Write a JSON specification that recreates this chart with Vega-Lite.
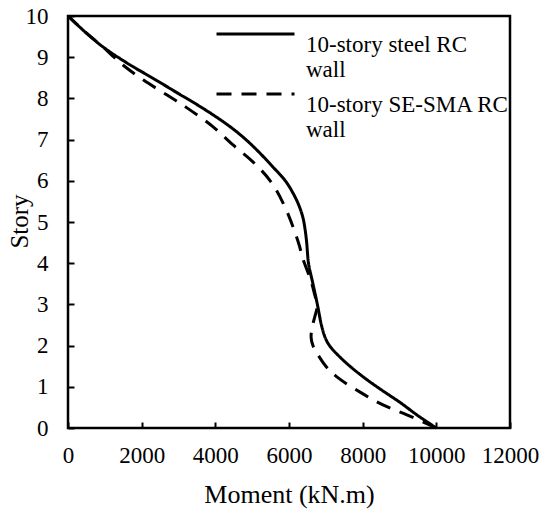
{
  "$schema": "https://vega.github.io/schema/vega-lite/v6.json",
  "width": 442,
  "height": 412,
  "autosize": {"type": "none"},
  "padding": {"left": 68, "top": 16, "right": 30, "bottom": 83},
  "background": "white",
  "config": {
    "view": {"stroke": "black", "strokeWidth": 2.5},
    "font": "Liberation Serif",
    "axis": {
      "domain": false,
      "grid": false,
      "ticks": true,
      "tickColor": "black",
      "tickWidth": 2,
      "tickSize": -6,
      "labelFont": "Liberation Serif",
      "labelFontSize": 23,
      "labelColor": "black",
      "labelOverlap": false,
      "labelFlush": false,
      "titleFont": "Liberation Serif",
      "titleFontWeight": "normal",
      "titleColor": "black"
    }
  },
  "data": {
    "values": [
      {"series": "10-story steel RC wall", "story": 0, "moment": 10000},
      {"series": "10-story steel RC wall", "story": 0.3, "moment": 9500},
      {"series": "10-story steel RC wall", "story": 0.63, "moment": 9000},
      {"series": "10-story steel RC wall", "story": 0.9, "moment": 8550},
      {"series": "10-story steel RC wall", "story": 1.17, "moment": 8120},
      {"series": "10-story steel RC wall", "story": 1.45, "moment": 7720},
      {"series": "10-story steel RC wall", "story": 1.72, "moment": 7385},
      {"series": "10-story steel RC wall", "story": 2.0, "moment": 7100},
      {"series": "10-story steel RC wall", "story": 2.2, "moment": 6980},
      {"series": "10-story steel RC wall", "story": 2.5, "moment": 6880},
      {"series": "10-story steel RC wall", "story": 3.0, "moment": 6770},
      {"series": "10-story steel RC wall", "story": 3.5, "moment": 6650},
      {"series": "10-story steel RC wall", "story": 4.0, "moment": 6530},
      {"series": "10-story steel RC wall", "story": 4.5, "moment": 6480},
      {"series": "10-story steel RC wall", "story": 4.8, "moment": 6440},
      {"series": "10-story steel RC wall", "story": 5.1, "moment": 6380},
      {"series": "10-story steel RC wall", "story": 5.4, "moment": 6270},
      {"series": "10-story steel RC wall", "story": 5.7, "moment": 6110},
      {"series": "10-story steel RC wall", "story": 6.0, "moment": 5900},
      {"series": "10-story steel RC wall", "story": 6.33, "moment": 5570},
      {"series": "10-story steel RC wall", "story": 6.7, "moment": 5180},
      {"series": "10-story steel RC wall", "story": 7.0, "moment": 4830},
      {"series": "10-story steel RC wall", "story": 7.3, "moment": 4420},
      {"series": "10-story steel RC wall", "story": 7.6, "moment": 3940},
      {"series": "10-story steel RC wall", "story": 7.85, "moment": 3500},
      {"series": "10-story steel RC wall", "story": 8.1, "moment": 3030},
      {"series": "10-story steel RC wall", "story": 8.45, "moment": 2380},
      {"series": "10-story steel RC wall", "story": 8.86, "moment": 1600},
      {"series": "10-story steel RC wall", "story": 9.25, "moment": 950},
      {"series": "10-story steel RC wall", "story": 9.6, "moment": 480},
      {"series": "10-story steel RC wall", "story": 10, "moment": 0},
      {"series": "10-story SE-SMA RC wall", "story": 0, "moment": 10000},
      {"series": "10-story SE-SMA RC wall", "story": 0.32, "moment": 9200},
      {"series": "10-story SE-SMA RC wall", "story": 0.56, "moment": 8550},
      {"series": "10-story SE-SMA RC wall", "story": 0.87, "moment": 7930},
      {"series": "10-story SE-SMA RC wall", "story": 1.24, "moment": 7300},
      {"series": "10-story SE-SMA RC wall", "story": 1.5, "moment": 7000},
      {"series": "10-story SE-SMA RC wall", "story": 1.8, "moment": 6770},
      {"series": "10-story SE-SMA RC wall", "story": 2.0, "moment": 6650},
      {"series": "10-story SE-SMA RC wall", "story": 2.2, "moment": 6600},
      {"series": "10-story SE-SMA RC wall", "story": 2.45, "moment": 6630},
      {"series": "10-story SE-SMA RC wall", "story": 2.7, "moment": 6700},
      {"series": "10-story SE-SMA RC wall", "story": 2.94, "moment": 6760},
      {"series": "10-story SE-SMA RC wall", "story": 3.3, "moment": 6680},
      {"series": "10-story SE-SMA RC wall", "story": 3.64, "moment": 6570},
      {"series": "10-story SE-SMA RC wall", "story": 4.15, "moment": 6360},
      {"series": "10-story SE-SMA RC wall", "story": 4.4, "moment": 6290},
      {"series": "10-story SE-SMA RC wall", "story": 4.88, "moment": 6110},
      {"series": "10-story SE-SMA RC wall", "story": 5.46, "moment": 5840},
      {"series": "10-story SE-SMA RC wall", "story": 6.0, "moment": 5490},
      {"series": "10-story SE-SMA RC wall", "story": 6.46, "moment": 5020},
      {"series": "10-story SE-SMA RC wall", "story": 6.87, "moment": 4480},
      {"series": "10-story SE-SMA RC wall", "story": 7.31, "moment": 3940},
      {"series": "10-story SE-SMA RC wall", "story": 7.77, "moment": 3230},
      {"series": "10-story SE-SMA RC wall", "story": 8.08, "moment": 2690},
      {"series": "10-story SE-SMA RC wall", "story": 8.45, "moment": 2040},
      {"series": "10-story SE-SMA RC wall", "story": 8.81, "moment": 1490},
      {"series": "10-story SE-SMA RC wall", "story": 9.0, "moment": 1250},
      {"series": "10-story SE-SMA RC wall", "story": 9.25, "moment": 950},
      {"series": "10-story SE-SMA RC wall", "story": 9.6, "moment": 480},
      {"series": "10-story SE-SMA RC wall", "story": 10, "moment": 0}
    ]
  },
  "mark": {"type": "line", "color": "black", "strokeWidth": 3, "interpolate": "catmull-rom"},
  "encoding": {
    "x": {
      "field": "moment", "type": "quantitative",
      "scale": {"domain": [0, 12000], "nice": false},
      "axis": {"values": [0, 2000, 4000, 6000, 8000, 10000, 12000], "format": "d", "labelBaseline": "alphabetic", "labelPadding": 40, "title": "Moment (kN.m)", "titleFontSize": 26, "titleX": 221, "titleY": 74, "titleBaseline": "alphabetic", "titleAlign": "center"}
    },
    "y": {
      "field": "story", "type": "quantitative",
      "scale": {"domain": [0, 10], "nice": false},
      "axis": {"values": [0, 1, 2, 3, 4, 5, 6, 7, 8, 9, 10], "labelPadding": 26, "title": "Story", "titleFontSize": 25, "titleX": -41, "titleY": 205, "titleAngle": 270, "titleBaseline": "alphabetic", "titleAlign": "center"}
    },
    "order": {"field": "story", "type": "quantitative"},
    "strokeDash": {
      "field": "series", "type": "nominal",
      "scale": {"domain": ["10-story steel RC wall", "10-story SE-SMA RC wall"], "range": [[1, 0], [15, 10]]},
      "legend": {
        "orient": "none",
        "legendX": 176,
        "legendY": 6.5,
        "title": null,
        "padding": 0,
        "symbolType": "M-6,0H6",
        "symbolSize": 169,
        "symbolStrokeWidth": 3,
        "symbolStrokeColor": "black",
        "labelOffset": 39,
        "labelFont": "Liberation Serif",
        "labelFontSize": 23,
        "labelColor": "black",
        "labelBaseline": "top",
        "labelLineHeight": 25,
        "labelLimit": 300,
        "rowPadding": 0,
        "labelExpr": "datum.label == '10-story steel RC wall' ? ['10-story steel RC', 'wall'] : ['10-story SE-SMA RC', 'wall']"
      }
    }
  }
}
